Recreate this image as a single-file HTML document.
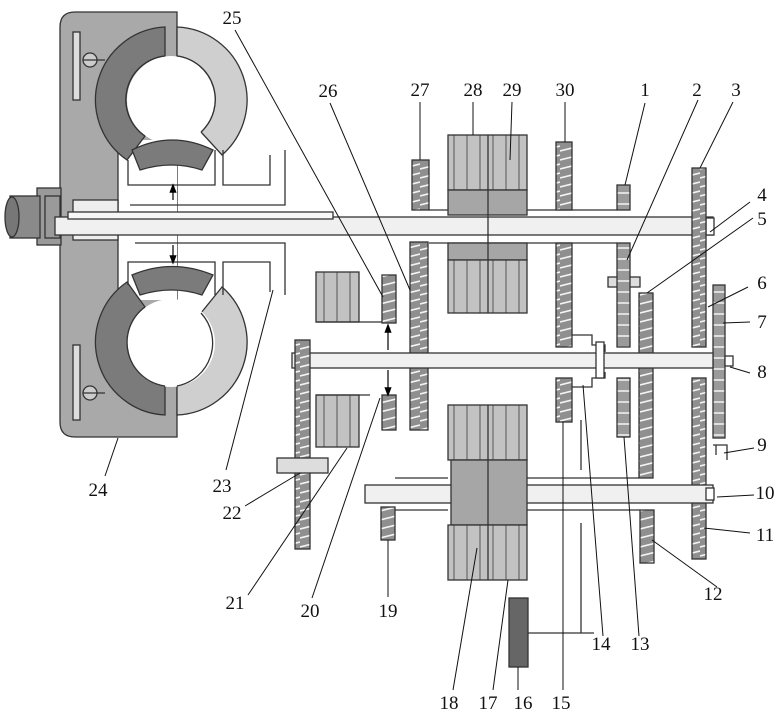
<!DOCTYPE html>
<html><head><meta charset="utf-8"><style>
html,body{margin:0;padding:0;background:#fff;}
svg{display:block;}
text{font-family:"Liberation Serif",serif;font-size:19px;fill:#111;text-anchor:middle;}
</style></head><body>
<svg width="780" height="719" viewBox="0 0 780 719" xmlns="http://www.w3.org/2000/svg">
<defs>
<pattern id="g" patternUnits="userSpaceOnUse" width="20" height="9">
<rect width="20" height="9" fill="#8f8f8f"/>
<line x1="0" y1="7" x2="20" y2="2" stroke="#f4f4f4" stroke-width="1.6"/>
</pattern>
<pattern id="g2" patternUnits="userSpaceOnUse" width="20" height="11">
<rect width="20" height="11" fill="#9a9a9a"/>
<line x1="0" y1="6" x2="20" y2="6" stroke="#f4f4f4" stroke-width="1.4"/>
</pattern>
<pattern id="c" patternUnits="userSpaceOnUse" width="13" height="10">
<rect width="13" height="10" fill="#c2c2c2"/>
<line x1="12" y1="0" x2="12" y2="10" stroke="#555" stroke-width="1"/>
</pattern>
<marker id="ar" markerWidth="8" markerHeight="8" refX="4" refY="4" orient="auto"><path d="M0,1 L8,4 L0,7z" fill="#000"/></marker>
</defs>
<g stroke="#333" stroke-width="1.3">
<path d="M75,12 H177 V437 H75 Q60,437 60,422 V27 Q60,12 75,12z" fill="#a9a9a9"/>
<rect x="118" y="140" width="59" height="160" fill="#fff" stroke="none"/>
<line x1="118" y1="140" x2="118" y2="300"/>
<rect x="73" y="32" width="7" height="68" fill="#ddd"/>
<rect x="73" y="345" width="7" height="75" fill="#ddd"/>
<circle cx="90" cy="60" r="7" fill="#ccc"/><line x1="83" y1="60" x2="105" y2="60"/>
<circle cx="90" cy="393" r="7" fill="#ccc"/><line x1="83" y1="393" x2="105" y2="393"/>
<rect x="37" y="188" width="24" height="57" fill="#9a9a9a"/>
<rect x="45" y="196" width="15" height="42" fill="#9a9a9a"/>
<rect x="10" y="196" width="30" height="42" fill="#8a8a8a"/>
<ellipse cx="12" cy="217" rx="7" ry="20" fill="#777"/>
<rect x="73" y="200" width="45" height="40" fill="#eee"/>
<!-- upper torus -->
<path d="M165,27 A73,73 0 0 0 127,160 L145,136 A44,44 0 0 1 165,56 Z" fill="#7b7b7b"/>
<path d="M177,27 A73,73 0 0 1 222,155 L201,132 A44,44 0 0 0 177,56 Z" fill="#cfcfcf"/>
<circle cx="171" cy="100" r="44" fill="#fff" stroke="none"/>
<path d="M145,136 A44,44 0 0 1 165,56 M177,56 A44,44 0 0 1 201,132" fill="none"/>
<path d="M132,150 Q172,130 213,150 L202,170 Q172,160 140,170 Z" fill="#7b7b7b"/>
<path d="M128,160 V185 H215 V150 M223,150 V185 H270 V155 M285,150 V205 H130" fill="none"/>
<!-- lower torus -->
<path d="M165,415 A73,73 0 0 1 127,282 L145,307 A44,44 0 0 0 165,386 Z" fill="#7b7b7b"/>
<path d="M177,415 A73,73 0 0 0 222,287 L201,313 A44,44 0 0 1 177,386 Z" fill="#cfcfcf"/>
<circle cx="171" cy="343" r="44" fill="#fff" stroke="none"/>
<path d="M145,307 A44,44 0 0 0 165,386 M177,386 A44,44 0 0 0 201,313" fill="none"/>
<path d="M132,275 Q172,258 213,275 L202,295 Q172,285 140,295 Z" fill="#7b7b7b"/>
<path d="M128,285 V262 H215 V295 M223,295 V262 H270 V292 M285,295 V243 H135" fill="none"/>
<rect x="55" y="217" width="658" height="18" fill="#f0f0f0"/>
<rect x="68" y="212" width="265" height="7" fill="#f7f7f7"/>
<rect x="706" y="218" width="8" height="17" fill="#fff"/>
<line x1="429" y1="210" x2="617" y2="210"/>
<line x1="429" y1="243" x2="617" y2="243"/>
<rect x="412" y="160" width="17" height="50" fill="url(#g)"/>
<rect x="410" y="242" width="18" height="188" fill="url(#g)"/>
<rect x="556" y="142" width="16" height="68" fill="url(#g)"/>
<rect x="556" y="243" width="16" height="104" fill="url(#g)"/>
<rect x="617" y="185" width="13" height="25" fill="url(#g2)"/>
<rect x="608" y="277" width="32" height="10" fill="#ddd"/>
<rect x="617" y="243" width="13" height="104" fill="url(#g2)"/>
<rect x="692" y="168" width="14" height="179" fill="url(#g)"/>
<rect x="639" y="293" width="14" height="185" fill="url(#g)"/>
<rect x="713" y="285" width="12" height="153" fill="url(#g2)"/>
<rect x="448" y="135" width="79" height="55" fill="url(#c)"/>
<rect x="448" y="190" width="79" height="25" fill="#a6a6a6"/>
<rect x="448" y="243" width="79" height="17" fill="#a6a6a6"/>
<rect x="448" y="260" width="79" height="53" fill="url(#c)"/>
<line x1="488" y1="135" x2="488" y2="313"/>
<rect x="292" y="353" width="421" height="15" fill="#f0f0f0"/>
<rect x="725" y="356" width="8" height="10" fill="#fff"/>
<rect x="556" y="378" width="16" height="44" fill="url(#g)"/>
<rect x="617" y="378" width="13" height="59" fill="url(#g2)"/>
<rect x="692" y="378" width="14" height="181" fill="url(#g)"/>
<path d="M572,335 H592 V345 H605 V352 M572,387 H592 V378 H605 V372" fill="none"/>
<rect x="596" y="342" width="8" height="36" fill="#fff"/>
<path d="M713,445 H727 V460 M716,445 V455" fill="none"/>
<rect x="316" y="272" width="43" height="50" fill="url(#c)"/>
<rect x="316" y="395" width="43" height="52" fill="url(#c)"/>
<line x1="316" y1="322" x2="382" y2="322"/>
<line x1="316" y1="395" x2="370" y2="395"/>
<rect x="382" y="275" width="14" height="48" fill="url(#g)"/>
<rect x="382" y="395" width="14" height="35" fill="url(#g)"/>
<rect x="295" y="340" width="15" height="209" fill="url(#g)"/>
<rect x="277" y="458" width="51" height="15" fill="#ddd"/>
<line x1="527" y1="478" x2="639" y2="478"/>
<line x1="527" y1="510" x2="640" y2="510"/>
<line x1="395" y1="478" x2="448" y2="478"/>
<line x1="395" y1="510" x2="448" y2="510"/>
<rect x="365" y="485" width="348" height="18" fill="#f0f0f0"/>
<rect x="706" y="488" width="8" height="12" fill="#fff"/>
<rect x="381" y="507" width="14" height="33" fill="url(#g)"/>
<rect x="640" y="510" width="14" height="53" fill="url(#g)"/>
<rect x="448" y="405" width="79" height="55" fill="url(#c)"/>
<rect x="451" y="460" width="76" height="65" fill="#a6a6a6"/>
<rect x="448" y="525" width="79" height="55" fill="url(#c)"/>
<line x1="488" y1="405" x2="488" y2="580"/>
<rect x="509" y="598" width="19" height="69" fill="#666"/>
<path d="M528,633 H594 M581,633 V523 M581,470 V420" fill="none"/>
</g>
<g stroke="#000" stroke-width="1.2">
<line x1="173" y1="200" x2="173" y2="188" marker-end="url(#ar)"/>
<line x1="173" y1="245" x2="173" y2="260" marker-end="url(#ar)"/>
<line x1="388" y1="350" x2="388" y2="328" marker-end="url(#ar)"/>
<line x1="388" y1="370" x2="388" y2="392" marker-end="url(#ar)"/>
</g>
<g stroke="#111" stroke-width="1">
<line x1="235" y1="30" x2="383" y2="297"/>
<line x1="330" y1="103" x2="410" y2="290"/>
<line x1="420" y1="102" x2="420" y2="160"/>
<line x1="473" y1="102" x2="473" y2="135"/>
<line x1="512" y1="102" x2="510" y2="160"/>
<line x1="565" y1="102" x2="565" y2="142"/>
<line x1="645" y1="103" x2="625" y2="185"/>
<line x1="698" y1="100" x2="627" y2="260"/>
<line x1="733" y1="102" x2="700" y2="168"/>
<line x1="750" y1="202" x2="710" y2="232"/>
<line x1="753" y1="218" x2="647" y2="293"/>
<line x1="748" y1="287" x2="708" y2="307"/>
<line x1="750" y1="322" x2="723" y2="323"/>
<line x1="750" y1="373" x2="730" y2="367"/>
<line x1="754" y1="448" x2="724" y2="453"/>
<line x1="754" y1="495" x2="717" y2="497"/>
<line x1="750" y1="533" x2="704" y2="528"/>
<line x1="717" y1="587" x2="652" y2="540"/>
<line x1="639" y1="636" x2="624" y2="437"/>
<line x1="603" y1="636" x2="583" y2="385"/>
<line x1="563" y1="690" x2="563" y2="422"/>
<line x1="518" y1="690" x2="518" y2="667"/>
<line x1="493" y1="690" x2="508" y2="580"/>
<line x1="453" y1="690" x2="477" y2="548"/>
<line x1="388" y1="597" x2="388" y2="540"/>
<line x1="312" y1="598" x2="380" y2="398"/>
<line x1="248" y1="595" x2="347" y2="448"/>
<line x1="245" y1="506" x2="300" y2="473"/>
<line x1="226" y1="470" x2="273" y2="290"/>
<line x1="105" y1="476" x2="118" y2="438"/>
</g>
<g>
<text x="232" y="24">25</text><text x="328" y="97">26</text>
<text x="420" y="96">27</text><text x="473" y="96">28</text><text x="512" y="96">29</text><text x="565" y="96">30</text>
<text x="645" y="96">1</text><text x="697" y="96">2</text><text x="736" y="96">3</text>
<text x="762" y="201">4</text><text x="762" y="225">5</text><text x="762" y="289">6</text><text x="762" y="328">7</text>
<text x="762" y="378">8</text><text x="762" y="451">9</text><text x="765" y="499">10</text><text x="765" y="541">11</text>
<text x="713" y="600">12</text><text x="640" y="650">13</text><text x="601" y="650">14</text>
<text x="561" y="709">15</text><text x="523" y="709">16</text><text x="488" y="709">17</text><text x="449" y="709">18</text>
<text x="388" y="617">19</text><text x="310" y="617">20</text><text x="235" y="609">21</text>
<text x="232" y="519">22</text><text x="222" y="492">23</text><text x="98" y="496">24</text>
</g>
</svg>
</body></html>
